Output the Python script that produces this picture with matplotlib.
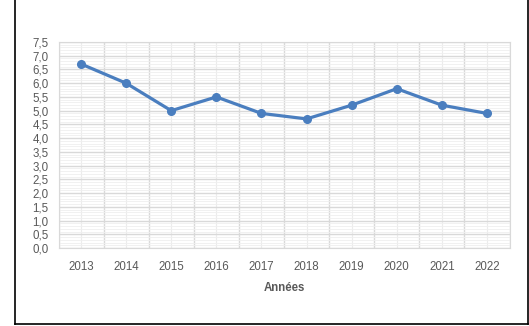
import matplotlib
matplotlib.use("Agg")
import matplotlib.pyplot as plt
import matplotlib.ticker as ticker
from matplotlib.lines import Line2D
import numpy as np

years = ["2013", "2014", "2015", "2016", "2017", "2018", "2019", "2020", "2021", "2022"]
values = [6.7, 6.0, 5.0, 5.5, 4.9, 4.7, 5.2, 5.8, 5.2, 4.9]

plt.rcParams['font.family'] = ['Liberation Sans', 'DejaVu Sans']

fig = plt.figure(figsize=(5.29, 3.26), dpi=100)
ax = fig.add_axes([58.5 / 529, 78 / 326, 451 / 529, 206 / 326])

x = np.arange(len(years))
ax.plot(x, values, '-', color='#4a7ebf', linewidth=2.3, marker='o', markersize=5.5)

ax.set_xlim(-0.5, len(years) - 0.5)
ax.set_ylim(0, 7.5)

ax.set_xticks(x)
ax.set_xticklabels(years)
ax.xaxis.set_minor_locator(ticker.FixedLocator(np.arange(-0.5, len(years), 1.0)))
ax.yaxis.set_major_locator(ticker.MultipleLocator(0.5))
ax.yaxis.set_minor_locator(ticker.MultipleLocator(0.1))
ax.yaxis.set_major_formatter(ticker.FuncFormatter(lambda v, p: f"{v:.1f}".replace('.', ',')))

ax.grid(axis='x', which='minor', color='#d9d9d9', linewidth=1.0)
ax.grid(axis='x', which='major', color='#ececec', linewidth=0.8)
ax.grid(axis='y', which='major', color='#d9d9d9', linewidth=1.0)
ax.grid(axis='y', which='minor', color='#efefef', linewidth=0.6)
ax.set_axisbelow(True)

ax.tick_params(which='both', length=0)
ax.tick_params(axis='y', pad=7, labelsize=8.3, labelcolor='#595959')
ax.tick_params(axis='x', pad=9.5, labelsize=8.3, labelcolor='#595959')
for s in ax.spines.values():
    s.set_color('#d9d9d9')

ax.set_xlabel('Années', fontsize=8.3, fontweight='bold', color='#595959', labelpad=6)

# outer frame (left, right, bottom)
fig.add_artist(Line2D([14.5 / 529, 14.5 / 529], [2.5 / 326, 1.0], color='black', linewidth=1.2))
fig.add_artist(Line2D([527.5 / 529, 527.5 / 529], [2.5 / 326, 1.0], color='black', linewidth=1.2))
fig.add_artist(Line2D([14.5 / 529, 527.5 / 529], [2.5 / 326, 2.5 / 326], color='black', linewidth=1.2))

fig.savefig('out.png', dpi=100)
